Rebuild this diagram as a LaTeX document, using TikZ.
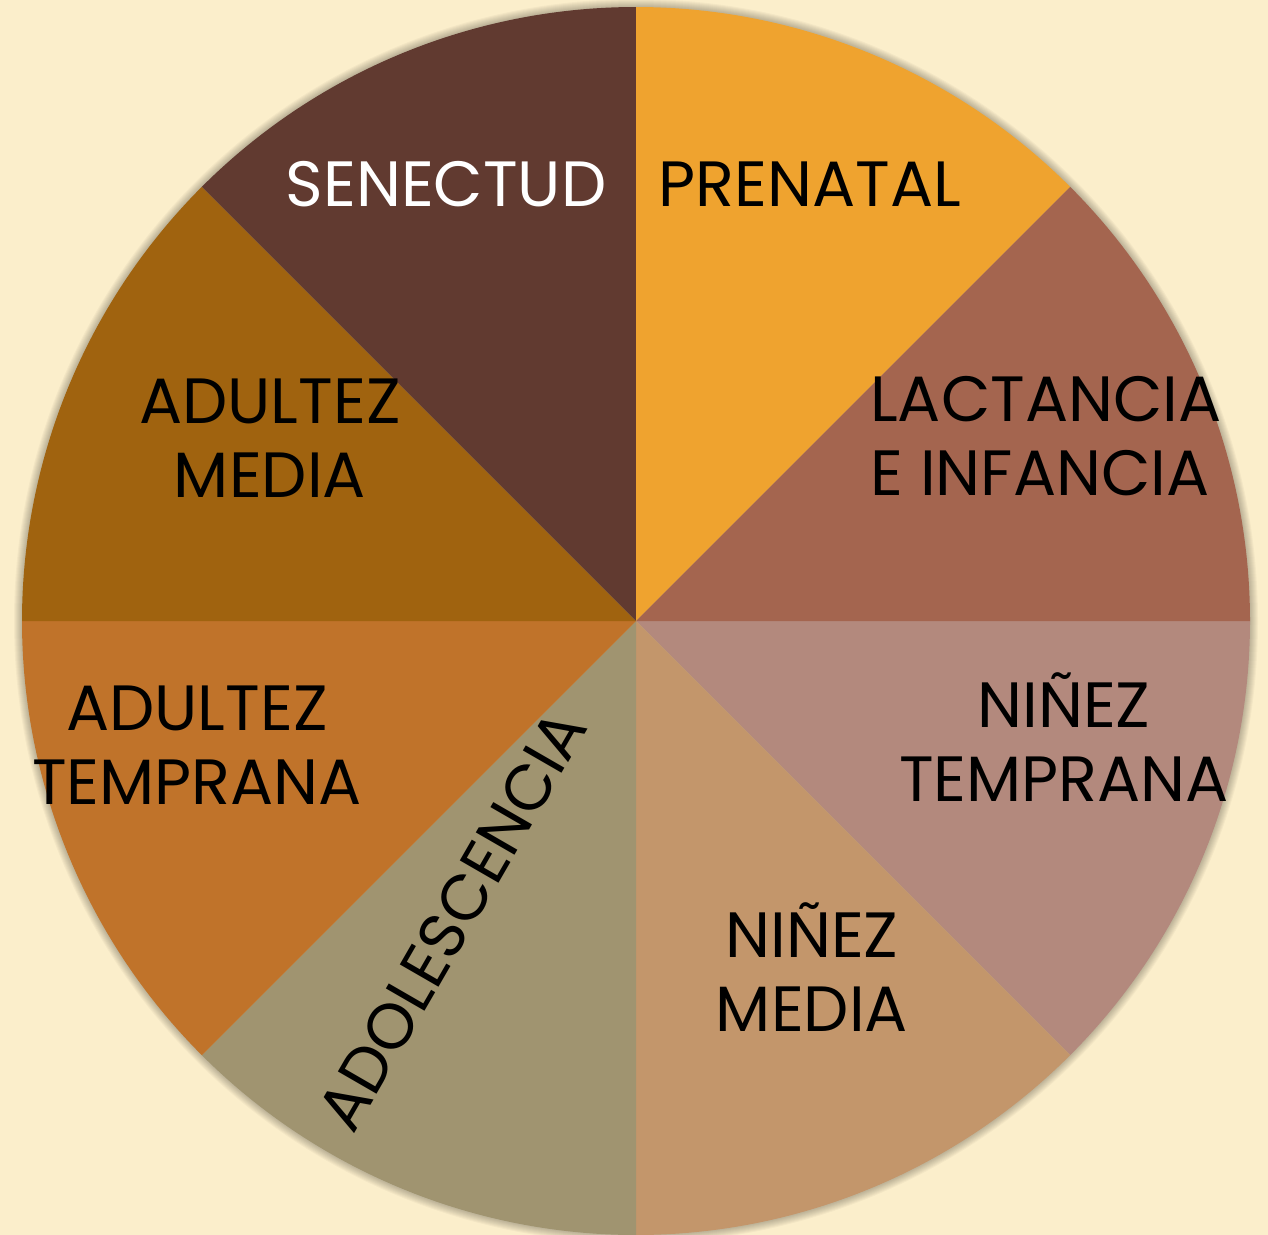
\documentclass[tikz,border=0pt]{standalone}
\usepackage{fontspec}
\setmainfont{Poppins}
\definecolor{cream}{RGB}{251,238,203}
\definecolor{senectud}{RGB}{97,58,48}
\definecolor{prenatal}{RGB}{239,163,47}
\definecolor{lactancia}{RGB}{164,101,79}
\definecolor{ninezt}{RGB}{179,137,125}
\definecolor{ninezm}{RGB}{195,150,107}
\definecolor{adolesc}{RGB}{160,148,112}
\definecolor{adultt}{RGB}{192,115,42}
\definecolor{adultm}{RGB}{160,99,15}
\tikzset{
  etapa/.style={inner sep=0pt,align=center,font=\fontsize{48}{56}\selectfont},
}
\begin{document}
\begin{tikzpicture}[x=0.75pt,y=0.75pt,yscale=-1]
\useasboundingbox (0,0) rectangle (1268,1235);
% background
\fill[cream] (0,0) rectangle (1268,1235);
% soft shadow round the wheel
\foreach \r in {1,...,8}
  \fill[black,opacity=0.03] (636,621) circle[radius=614+\r];
% the eight sectors
\foreach \a/\c in {0/ninezt,45/ninezm,90/adolesc,135/adultt,180/adultm,225/senectud,270/prenatal,315/lactancia}
  \fill[\c] (636,621) -- ++(\a:614) arc[start angle=\a,delta angle=45,radius=614] -- cycle;

% Text Nodes
\node[etapa,text=white] (senectud) at (446,184) {SENECTUD};
\node[etapa] (prenatal) at (810,184) {PRENATAL};
\node[etapa,align=left,anchor=west] (lactancia) at (870,436) {LACTANCIA\\E INFANCIA};
\node[etapa] (ninezt) at (1064,737) {NIÑEZ\\TEMPRANA};
\node[etapa] (ninezm) at (812,967) {NIÑEZ\\MEDIA};
\node[etapa,rotate=60] (adolesc) at (452,920) {ADOLESCENCIA};
\node[etapa] (adultt) at (197,745) {ADULTEZ\\TEMPRANA};
\node[etapa] (adultm) at (270,438) {ADULTEZ\\MEDIA};
\end{tikzpicture}
\end{document}
